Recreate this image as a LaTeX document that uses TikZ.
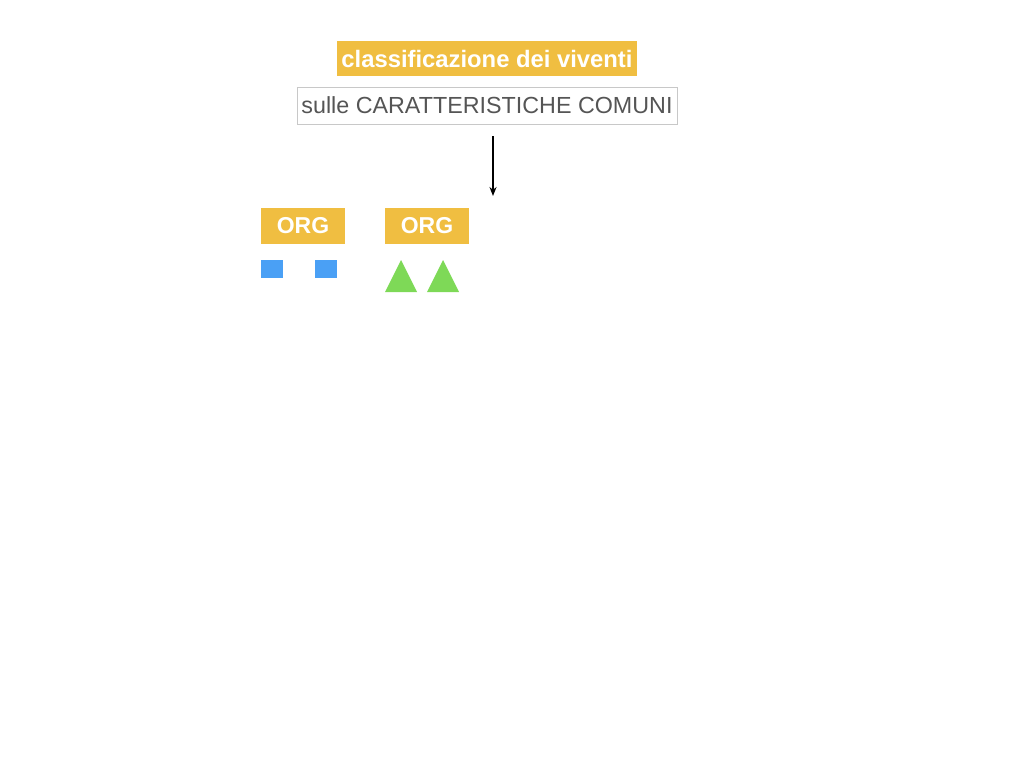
\documentclass[tikz,border=0pt]{standalone}
\usepackage{fontspec}
\setmainfont{Liberation Sans}
\usetikzlibrary{arrows.meta}
\definecolor{orgyellow}{HTML}{F0BE41}
\definecolor{orgblue}{HTML}{4AA0F5}
\definecolor{orggreen}{HTML}{7ED957}
\definecolor{boxgray}{HTML}{C8C8C8}
\definecolor{txtgray}{HTML}{555555}

\begin{document}
\begin{tikzpicture}[x=1pt,y=-1pt,
		tag/.style={fill=orgyellow,text=white,font=\bfseries,inner sep=0pt},
		cube/.style={fill=orgblue,minimum width=22pt,minimum height=18pt,inner sep=0pt}]
		\useasboundingbox (0,0) rectangle (1024,768);
		\node[tag,minimum width=300pt,minimum height=35pt,font=\fontsize{23.8}{26}\bfseries\selectfont] (title) at (487,58.5) {classificazione dei viventi};
		\node[draw=boxgray,text=txtgray,minimum width=380pt,minimum height=37pt,inner sep=0pt,font=\fontsize{23.3}{26}\selectfont] (crit) at (487,105.5) {sulle CARATTERISTICHE COMUNI};
		\coordinate (a) at (493,136);
		\coordinate (b) at (493,196);
		\draw[line width=1.6pt,-{Stealth[length=9pt,width=7pt]}] (a)--(b);
		
		\node[tag,minimum width=84pt,minimum height=36pt,font=\fontsize{23}{26}\bfseries\selectfont] (org1) at (303,226) {ORG};
		\node[tag,minimum width=84pt,minimum height=36pt,font=\fontsize{23}{26}\bfseries\selectfont] (org2) at (427,226) {ORG};
		\node[cube] (q1) at (272,269) {};
		\node[cube] (q2) at (326,269) {};
		\fill[orggreen] (385,292)--(401,260)--(417,292)--cycle;
		\fill[orggreen] (427,292)--(443,260)--(459,292)--cycle;
	\end{tikzpicture}
\end{document}
